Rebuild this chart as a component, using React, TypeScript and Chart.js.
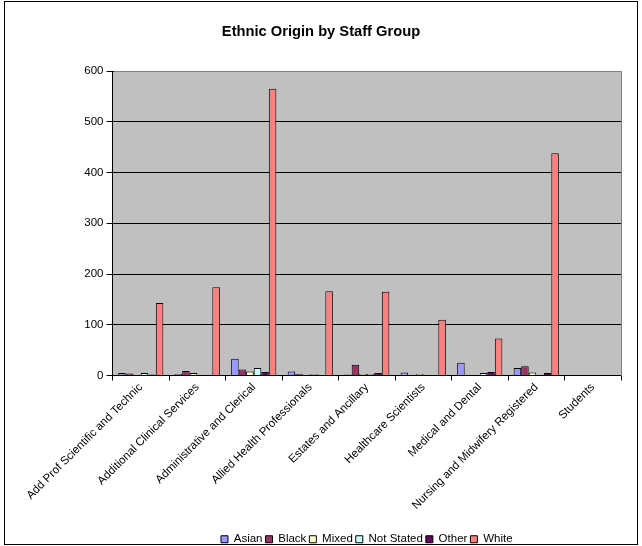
import React, { useEffect, useRef } from "react";
import { Chart, registerables } from "chart.js";

Chart.register(...registerables);

const categories = [
  "Add Prof Scientific and Technic",
  "Additional Clinical Services",
  "Administrative and Clerical",
  "Allied Health Professionals",
  "Estates and Ancillary",
  "Healthcare Scientists",
  "Medical and Dental",
  "Nursing and Midwifery Registered",
  "Students",
];

const asian = [5, 3, 33, 8, 2, 6, 25, 15, 0];
const black = [4, 9, 12, 3, 21, 0, 1, 18, 0];
const mixed = [1, 5, 8, 0, 3, 3, 1, 6, 0];
const notStated = [5, 1, 15, 3, 3, 1, 5, 1, 0];
const other = [2, 1, 7, 1, 5, 1, 7, 5, 0];
const white = [143, 174, 565, 166, 165, 110, 73, 438, 1];

const yTicks = [0, 100, 200, 300, 400, 500, 600];

const FONT = "'Liberation Sans', Arial, sans-serif";

export default function App() {
  const ref = useRef<HTMLCanvasElement | null>(null);

  useEffect(() => {
    if (!ref.current) return;
    const mk = (label: string, data: number[], color: string) => ({
      label,
      data,
      backgroundColor: color,
      borderColor: "#000000",
      borderWidth: 1,
      categoryPercentage: 0.8,
      barPercentage: 1.0,
    });

    const framePlugin = {
      id: "frame",
      beforeDraw(chart: any) {
        const { ctx, chartArea } = chart;
        ctx.save();
        ctx.fillStyle = "#ffffff";
        ctx.fillRect(0, 0, chart.width, chart.height);
        ctx.fillStyle = "#C0C0C0";
        ctx.fillRect(chartArea.left, chartArea.top, chartArea.right - chartArea.left, chartArea.bottom - chartArea.top);
        ctx.restore();
      },
      afterLayout(chart: any) {
        const lg = chart.legend;
        if (lg) {
          lg.top += 9;
          lg.bottom += 9;
        }
      },
      afterDatasetsDraw(chart: any) {
        const { ctx, chartArea } = chart;
        ctx.save();
        ctx.strokeStyle = "#808080";
        ctx.lineWidth = 1;
        ctx.beginPath();
        const t = Math.round(chartArea.top) + 0.5;
        const r = Math.round(chartArea.right) + 0.5;
        const b = Math.round(chartArea.bottom);
        ctx.moveTo(Math.round(chartArea.left) + 1, t);
        ctx.lineTo(r, t);
        ctx.lineTo(r, b);
        ctx.stroke();
        ctx.restore();
      },
      afterDraw(chart: any) {
        const { ctx } = chart;
        ctx.save();
        ctx.strokeStyle = "#000000";
        ctx.lineWidth = 1;
        ctx.strokeRect(4.5, 1.5, 633, 543);
        ctx.restore();
      },
    };

    const chart = new Chart(ref.current, {
      type: "bar",
      data: {
        labels: categories,
        datasets: [
          mk("Asian", asian, "#9999FF"),
          mk("Black", black, "#993366"),
          mk("Mixed", mixed, "#FFFFCC"),
          mk("Not Stated", notStated, "#CCFFFF"),
          mk("Other", other, "#660066"),
          mk("White", white, "#FF8080"),
        ],
      },
      options: {
        animation: false,
        responsive: false,
        devicePixelRatio: 1,
        layout: { padding: { left: 21, right: 21, top: 0, bottom: 0 } },
        plugins: {
          title: {
            display: true,
            text: "Ethnic Origin by Staff Group",
            color: "#000000",
            font: { family: FONT, size: 14.7, weight: "bold" },
            padding: { top: 22.7, bottom: 30.7 },
          },
          legend: {
            position: "bottom",
            fullSize: false,
            labels: {
              color: "#000000",
              font: { family: FONT, size: 11.5 },
              boxWidth: 7,
              boxHeight: 7,
              padding: 3,
            },
          },
          tooltip: { enabled: false },
        },
        scales: {
          x: {
            afterFit: (scale: any) => {
              scale.height = 146;
            },
            grid: {
              display: true,
              drawOnChartArea: false,
              drawTicks: true,
              tickLength: 5,
              color: "#000000",
              offset: true,
            },
            border: { display: true, color: "#000000" },
            ticks: {
              autoSkip: false,
              maxRotation: 45,
              minRotation: 45,
              color: "#000000",
              font: { family: FONT, size: 11.5 },
              padding: 0,
            },
          },
          y: {
            min: 0,
            max: 600,
            afterFit: (scale: any) => {
              scale.width = 91.5;
            },
            afterBuildTicks: (scale: any) => {
              scale.ticks = yTicks.map((v) => ({ value: v }));
            },
            grid: {
              color: "#000000",
              lineWidth: 1,
              drawTicks: true,
              tickLength: 6,
            },
            border: { display: true, color: "#000000" },
            ticks: {
              color: "#000000",
              font: { family: FONT, size: 11.5 },
              padding: 3,
            },
          },
        },
      },
      plugins: [framePlugin],
    } as any);

    return () => chart.destroy();
  }, []);

  return (
    <div style={{ position: "absolute", left: 0, top: 0, width: 642, height: 546 }}>
      <canvas ref={ref} width={642} height={546} style={{ display: "block" }} />
    </div>
  );
}
